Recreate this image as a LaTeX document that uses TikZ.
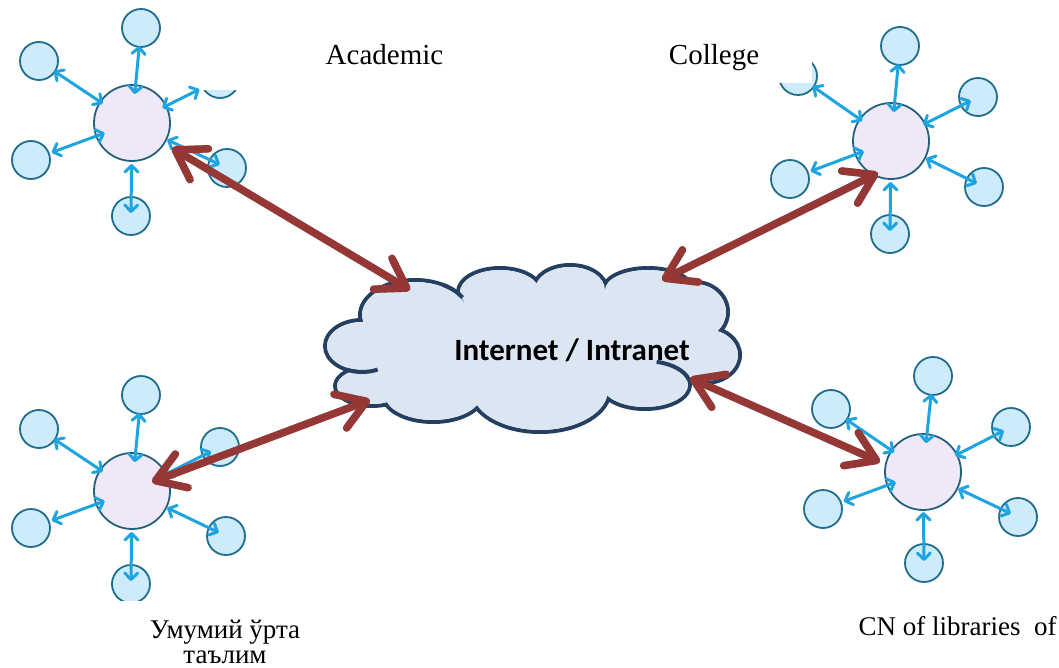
\documentclass[tikz,border=0pt]{standalone}
\usepackage{fontspec}
\setmainfont{Liberation Serif}
\newfontfamily\carlito{Carlito}
\usetikzlibrary{arrows.meta,calc}
\definecolor{satf}{RGB}{205,235,250}
\definecolor{satb}{RGB}{32,110,140}
\definecolor{hubf}{RGB}{238,232,248}
\definecolor{hubb}{RGB}{36,96,122}
\definecolor{bluea}{RGB}{30,165,225}
\definecolor{redc}{RGB}{149,55,53}
\definecolor{cloudf}{RGB}{220,230,242}
\definecolor{cloudb}{RGB}{36,63,96}
\tikzset{
 sat/.style={circle, draw=satb, fill=satf, line width=1.8pt, minimum size=38pt, inner sep=0pt},
 hub/.style={circle, draw=hubb, fill=hubf, line width=1.8pt, minimum size=76pt, inner sep=0pt},
 blink/.style={draw=bluea, line width=3pt, {Straight Barb[length=6.5pt,width=13pt,round]}-{Straight Barb[length=6.5pt,width=13pt,round]}},
 redlink/.style={draw=redc, line width=7.5pt, {Straight Barb[length=28pt,width=36pt,round]}-{Straight Barb[length=28pt,width=36pt,round]}},
 redshadow/.style={redlink, draw=black!60, opacity=0.45, shift={(2.5,2.5)}},
 toplbl/.style={font=\fontsize{29}{34}\selectfont, anchor=base, inner sep=0pt},
 botlbl/.style={font=\fontsize{27}{32}\selectfont, anchor=base, inner sep=0pt},
 cloudline/.style={draw=cloudb, line width=4pt},
}
\newcommand\blk[4]{\draw[blink] ($(#1)!#3pt!(#2)$) -- ($(#2)!#4pt!(#1)$);}
\begin{document}
\begin{tikzpicture}[x=1pt,y=-1pt]
\path[use as bounding box, fill=white] (0,0) rectangle (1059,668);

% ---------- cluster top-left
\node[sat] (t1a) at (141,28) {};
\node[sat] (t1b) at (39,61) {};
\begin{scope}\clip (190,91) rectangle (250,112); \node[sat] (t1c) at (220,79) {}; \end{scope}
\node[sat] (t1d) at (31,160) {};
\node[sat] (t1e) at (227,168) {};
\node[sat] (t1f) at (131,216) {};
\node[hub] (h1) at (132,123) {};
\blk{h1}{t1a}{29}{18}
\blk{h1}{t1b}{35}{18}
\blk{h1}{t1c}{34}{23}
\blk{h1}{t1d}{29}{22}
\blk{h1}{t1e}{39}{8}
\blk{h1}{t1f}{41}{3}

% ---------- cluster top-right
\node[sat] (t2a) at (900,46) {};
\begin{scope}\clip (760,83) -- (812,83) -- (812,40) -- (840,40) -- (840,110) -- (760,110) -- cycle; \node[sat] (t2b) at (798,76) {}; \end{scope}
\node[sat] (t2c) at (978,97) {};
\node[sat] (t2d) at (790,179) {};
\node[sat] (t2e) at (984,187) {};
\node[sat] (t2f) at (890,234) {};
\node[hub] (h2) at (891,141) {};
\blk{h2}{t2a}{29}{18}
\blk{h2}{t2b}{35}{18}
\blk{h2}{t2c}{36}{8}
\blk{h2}{t2d}{29}{22}
\blk{h2}{t2e}{39}{8}
\blk{h2}{t2f}{41}{3}

% ---------- cluster bottom-left
\node[sat] (t3a) at (141,395) {};
\node[sat] (t3b) at (39,429) {};
\node[sat] (t3c) at (220,447) {};
\node[sat] (t3d) at (31,528) {};
\node[sat] (t3e) at (226,536) {};
\begin{scope}\clip (100,550) rectangle (170,600); \node[sat] (t3f) at (131,584) {}; \end{scope}
\node[hub] (h3) at (132,491) {};
\blk{h3}{t3a}{29}{18}
\blk{h3}{t3b}{35}{18}
\blk{h3}{t3c}{36}{10}
\blk{h3}{t3d}{29}{22}
\blk{h3}{t3e}{39}{8}
\blk{h3}{t3f}{41}{3}

% ---------- cluster bottom-right
\node[sat] (t4a) at (933,376) {};
\node[sat] (t4b) at (831,409) {};
\node[sat] (t4c) at (1011,427) {};
\node[sat] (t4d) at (823,509) {};
\node[sat] (t4e) at (1018,517) {};
\node[sat] (t4f) at (924,563) {};
\node[hub] (h4) at (923,472) {};
\blk{h4}{t4a}{29}{18}
\blk{h4}{t4b}{35}{18}
\blk{h4}{t4c}{36}{8}
\blk{h4}{t4d}{29}{22}
\blk{h4}{t4e}{39}{8}
\blk{h4}{t4f}{40}{2}

% ---------- cloud
\foreach \cx/\cy/\rx/\ry in {362/346/37/26, 372/386/37/20, 433/395/50/27, 540/390/70/42, 645/385/45/24, 705/355/35/28, 695/312/33/30, 648/290/45/22, 570/290/37/25, 500/292/42/24, 415/315/55/35}
  \draw[cloudline] (\cx,\cy) ellipse [x radius=\rx, y radius=\ry];
\fill[cloudf] (362,346) -- (372,386) -- (433,395) -- (540,390) -- (645,385) -- (705,355) -- (695,312) -- (648,290) -- (570,290) -- (500,292) -- (415,315) -- cycle;
\foreach \cx/\cy/\rx/\ry in {362/346/37/26, 372/386/37/20, 433/395/50/27, 540/390/70/42, 645/385/45/24, 705/355/35/28, 695/312/33/30, 648/290/45/22, 570/290/37/25, 500/292/42/24, 415/315/55/35}
  \fill[cloudf] (\cx,\cy) ellipse [x radius=\rx-2, y radius=\ry-2];
\draw[cloudline] (645,385) ++(285:45 and 24) arc[start angle=285, end angle=345, x radius=45, y radius=24];
\draw[cloudline] (362,346) ++(65:37 and 26) arc[start angle=65, end angle=115, x radius=37, y radius=26];
\draw[cloudline] (415,315) ++(300:55 and 35) arc[start angle=300, end angle=330, x radius=55, y radius=35];
\node[font=\carlito\bfseries\fontsize{31}{36}\selectfont, inner sep=0pt] (net) at (572,350) {Internet / Intranet};

% ---------- red links
\coordinate (r1a) at (172,148); \coordinate (r1b) at (410,290);
\coordinate (r2a) at (878,173); \coordinate (r2b) at (662,280);
\coordinate (r3a) at (152,482); \coordinate (r3b) at (370,400);
\coordinate (r4a) at (880,462); \coordinate (r4b) at (690,378);
\foreach \p in {1,2,3,4} \draw[redshadow] (r\p a) -- (r\p b);
\foreach \p in {1,2,3,4} \draw[redlink] (r\p a) -- (r\p b);

% ---------- labels
\node[toplbl] (lacad) at (384.5,65) {Academic};
\node[toplbl] (lcoll) at (714,65) {College};
\node[font=\fontsize{27}{25}\selectfont, align=center, anchor=north, inner sep=0pt] (lumu) at (225,619.5) {Умумий ўрта\\таълим};
\node[botlbl] (lcn) at (957.5,635) {CN of libraries\ \ of};
\end{tikzpicture}
\end{document}
